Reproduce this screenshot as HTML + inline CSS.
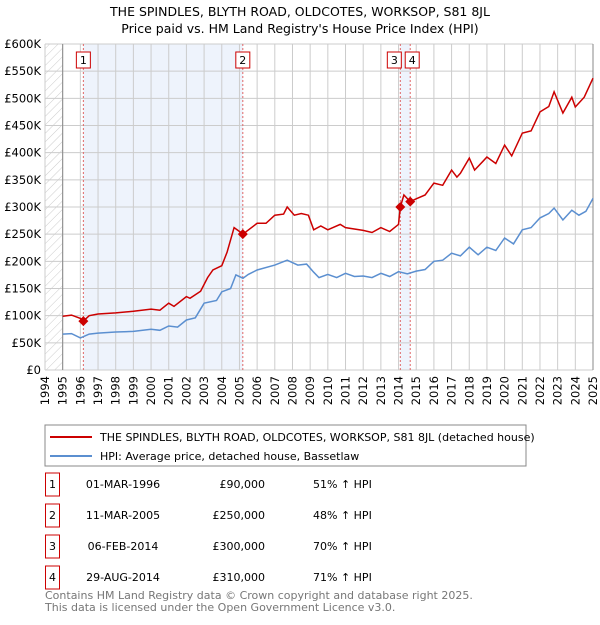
<!DOCTYPE html>
<html><head><meta charset="utf-8"><style>
body{margin:0;background:#fff;font-family:"Liberation Sans","DejaVu Sans",sans-serif;}
svg text{font-family:"DejaVu Sans","Liberation Sans",sans-serif;}
</style></head><body>
<svg id="c" width="600" height="620" viewBox="0 0 600 620" xmlns="http://www.w3.org/2000/svg">
<defs><pattern id="hatch" width="6" height="6" patternUnits="userSpaceOnUse" patternTransform="rotate(45)"><line x1="0" y1="0" x2="0" y2="6" stroke="#ccc" stroke-width="1"/></pattern></defs>
<text x="300" y="16" text-anchor="middle" font-size="12.5" fill="#000">THE SPINDLES, BLYTH ROAD, OLDCOTES, WORKSOP, S81 8JL</text>
<text x="300" y="33" text-anchor="middle" font-size="12.5" fill="#000">Price paid vs. HM Land Registry's House Price Index (HPI)</text>
<g id="plot"></g>
<rect x="45" y="425" width="481" height="41" fill="#fff" stroke="#888"/>
<line x1="50" y1="437" x2="92" y2="437" stroke="#cc0000" stroke-width="2"/>
<text x="100" y="441" font-size="11">THE SPINDLES, BLYTH ROAD, OLDCOTES, WORKSOP, S81 8JL (detached house)</text>
<line x1="50" y1="456" x2="92" y2="456" stroke="#5b8fd0" stroke-width="2"/>
<text x="100" y="460" font-size="11">HPI: Average price, detached house, Bassetlaw</text>
<g id="table" font-size="11"></g>
<text x="45" y="599" font-size="11" fill="#777">Contains HM Land Registry data © Crown copyright and database right 2025.</text>
<text x="45" y="611" font-size="11" fill="#777">This data is licensed under the Open Government Licence v3.0.</text>
</svg>
<script>
const hpiYears=[1995,1995.5,1996,1996.5,1997,1998,1999,2000,2000.5,2001,2001.5,2002,2002.5,2003,2003.7,2004,2004.5,2004.8,2005.2,2005.5,2006,2007,2007.7,2008.3,2008.8,2009.2,2009.5,2010,2010.5,2011,2011.5,2012,2012.5,2013,2013.5,2014,2014.5,2015,2015.5,2016,2016.5,2017,2017.5,2018,2018.5,2019,2019.5,2020,2020.5,2021,2021.5,2022,2022.5,2022.8,2023.3,2023.8,2024.2,2024.6,2025];
const hpiValues=[66,67,59,66,68,70,71,75,73,81,79,92,96,123,128,144,150,175,169,176,184,193,202,193,195,180,170,176,170,178,172,173,170,178,172,181,177,182,185,200,202,215,210,226,212,226,220,243,232,258,262,280,288,298,276,294,285,292,316];
const ppYears=[1995,1995.5,1996,1996.17,1996.5,1997,1998,1999,2000,2000.5,2001,2001.3,2002,2002.2,2002.8,2003.2,2003.5,2004,2004.3,2004.7,2005,2005.19,2006,2006.5,2007,2007.5,2007.7,2008.1,2008.5,2008.9,2009.2,2009.6,2010,2010.7,2011,2012,2012.5,2013,2013.5,2014,2014.1,2014.3,2014.66,2015,2015.5,2016,2016.5,2017,2017.3,2017.5,2018,2018.3,2018.8,2019,2019.5,2020,2020.4,2021,2021.5,2022,2022.5,2022.8,2023.3,2023.8,2024,2024.5,2025];
const ppValues=[99,101,95,90,100,103,105,108,112,110,123,117,135,132,145,170,184,192,217,262,255,250,270,270,285,287,300,285,288,285,258,265,258,268,262,257,253,262,255,268,300,322,310,315,322,344,340,368,355,362,390,368,385,392,380,414,394,436,440,475,485,512,473,502,484,502,537];
const sales=[{n:"1",date:"01-MAR-1996",t:1996.17,v:90,price:"£90,000",hpi:"51% ↑ HPI"},{n:"2",date:"11-MAR-2005",t:2005.19,v:250,price:"£250,000",hpi:"48% ↑ HPI"},{n:"3",date:"06-FEB-2014",t:2014.1,v:300,price:"£300,000",hpi:"70% ↑ HPI"},{n:"4",date:"29-AUG-2014",t:2014.66,v:310,price:"£310,000",hpi:"71% ↑ HPI"}];
const yTicks=[0,50,100,150,200,250,300,350,400,450,500,550,600];
const xTicks=[1994,1995,1996,1997,1998,1999,2000,2001,2002,2003,2004,2005,2006,2007,2008,2009,2010,2011,2012,2013,2014,2015,2016,2017,2018,2019,2020,2021,2022,2023,2024,2025];
const L=45,R=593,T=44,B=370;
const X=t=>L+(t-1994)/(2025-1994)*(R-L);
const Y=v=>B-v/600*(B-T);
const NS="http://www.w3.org/2000/svg";
const g=document.getElementById('plot');
function mk(tag,attrs,parent){const e=document.createElementNS(NS,tag);for(const k in attrs)e.setAttribute(k,attrs[k]);(parent||g).appendChild(e);return e;}
let r=mk('rect',{x:X(1994),y:T,width:X(1995)-X(1994),height:B-T,fill:'url(#hatch)'});


[[0,1],[2,3]].forEach(([a,b])=>{const s=mk('rect',{x:X(sales[a].t),y:T,width:X(sales[b].t)-X(sales[a].t),height:B-T,fill:'#eef3fc'});

});
yTicks.forEach(v=>{const l=mk('line',{x1:L,x2:R,y1:Y(v),y2:Y(v),stroke:'#ccc','stroke-width':1});


const t=mk('text',{x:L-4,y:Y(v)+4,'text-anchor':'end','font-size':'11.5'});t.textContent=v===0?'£0':'£'+v+'K';

});
xTicks.forEach(yr=>{const l=mk('line',{x1:X(yr),x2:X(yr),y1:T,y2:B,stroke:'#ccc','stroke-width':1});


const t=mk('text',{x:0,y:0,'font-size':'11.5','text-anchor':'end',transform:`translate(${X(yr)+4},${B+6}) rotate(-90)`});t.textContent=yr;

});
const ax=mk('line',{x1:X(1995),x2:X(1995),y1:T,y2:B,stroke:'#888'});


const ax2=mk('line',{x1:R,x2:R,y1:T,y2:B,stroke:'#888'});


sales.forEach(s=>{const l=mk('line',{x1:X(s.t),x2:X(s.t),y1:T,y2:B,stroke:'#e06666','stroke-dasharray':'2,2'});

});
function path(xs,vs){return xs.map((t,i)=>(i?'L':'M')+X(t).toFixed(1)+','+Y(vs[i]).toFixed(1)).join('');}
const hp=mk('path',{d:path(hpiYears,hpiValues),fill:'none',stroke:'#5b8fd0','stroke-width':1.5});


const pp=mk('path',{d:path(ppYears,ppValues),fill:'none',stroke:'#cc0000','stroke-width':1.5});


sales.forEach((s,i)=>{const cx=X(s.t),cy=Y(s.v);
const d=mk('path',{d:`M${cx},${cy-5}L${cx+5},${cy}L${cx},${cy+5}L${cx-5},${cy}Z`,fill:'#cc0000'});


const bx=(i===2)?cx-13:(i===3?cx-5:cx-7);
const b=mk('rect',{x:bx,y:52,width:14,height:16,fill:'#fff',stroke:'#cc0000'});


const t=mk('text',{x:bx+7,y:64,'text-anchor':'middle','font-size':'11'});t.textContent=s.n;

});
const tb=document.getElementById('table');
sales.forEach((s,i)=>{const y=487+i*31;
const b=mk('rect',{x:45.5,y:y-14,width:14,height:23,fill:'#fff',stroke:'#cc0000'},tb);


const cells=[[52.5,'middle',s.n,'table-number'],[123,'middle',s.date,'table-date'],[265,'end',s.price,'table-price'],[313,'start',s.hpi,'table-hpi-change']];
cells.forEach(([x,a,txt,nm])=>{const t=mk('text',{x:x,y:y+1,'text-anchor':a},tb);t.textContent=txt;

});});
</script>
</body></html>
